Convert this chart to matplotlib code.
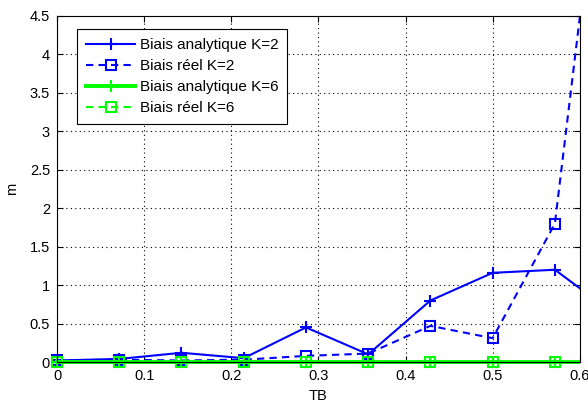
import matplotlib
matplotlib.use("Agg")
import matplotlib.pyplot as plt
from matplotlib.patches import Rectangle
import numpy as np

tb = [0, 1/14, 2/14, 3/14, 4/14, 5/14, 6/14, 7/14, 8/14, 9/14]
ana_k2 = [0.02, 0.04, 0.12, 0.05, 0.45, 0.10, 0.80, 1.16, 1.20, 0.60]
reel_k2 = [0.02, 0.03, 0.02, 0.03, 0.08, 0.11, 0.47, 0.31, 1.80, 8.50]
ana_k6 = [0.005, 0.005, 0.005, 0.005, 0.005, 0.005, 0.005, 0.005, 0.005, 0.005]
reel_k6 = [0.005, 0.005, 0.005, 0.005, 0.005, 0.005, 0.005, 0.005, 0.005, 0.005]
xticks = [0, 0.1, 0.2, 0.3, 0.4, 0.5, 0.6]
yticks = [0, 0.5, 1, 1.5, 2, 2.5, 3, 3.5, 4, 4.5]

plt.rcParams['font.family'] = ['Liberation Sans', 'DejaVu Sans']
fig = plt.figure(figsize=(5.88, 4.03), dpi=100)
ax = fig.add_axes([0.097, 0.1017, 0.889, 0.8586])

blue = '#0000ff'
green = '#00ff00'
dash = (0, (3.5, 2.5))
lines = []
lines += ax.plot(tb, ana_k2, '-', color=blue, marker='+', ms=9, mew=1.5, lw=1.5, label='Biais analytique K=2')
lines += ax.plot(tb, reel_k2, linestyle=dash, color=blue, marker='s', ms=7.5, mfc='none', mew=1.5, lw=1.5, label='Biais réel K=2')
lines += ax.plot(tb, ana_k6, '-', color=green, marker='+', ms=9, mew=1.5, lw=2.8, label='Biais analytique K=6')
lines += ax.plot(tb, reel_k6, linestyle=dash, color=green, marker='s', ms=7.5, mfc='none', mew=1.5, lw=1.5, label='Biais réel K=6')

ax.set_xlim(0, 0.6)
ax.set_ylim(0, 4.5)

clip = Rectangle((-0.02, -0.03), 1.02, 1.03, transform=ax.transAxes, facecolor='none', edgecolor='none')
for ln in lines:
    ln.set_clip_path(clip)

ax.set_xticks(xticks)
ax.set_xticklabels([f'{v:g}' for v in xticks])
ax.set_yticks(yticks)
ax.set_yticklabels([f'{v:g}' for v in yticks])
ax.grid(True, linestyle=(0, (1, 3)), color='black', lw=0.8)
ax.tick_params(direction='in', labelsize=10.5, top=True, right=True, length=4, pad=5)
ax.set_xlabel('TB', fontsize=10.5, labelpad=4)
ax.set_ylabel('m', fontsize=10.5, labelpad=8)
for s in ax.spines.values():
    s.set_linewidth(0.8)

leg = ax.legend(loc='upper left', bbox_to_anchor=(0.038, 0.962), borderaxespad=0,
                fontsize=11, frameon=True, fancybox=False, edgecolor='black', framealpha=1,
                handlelength=3.2, borderpad=0.6, labelspacing=0.45, handletextpad=0.3)
leg.get_frame().set_linewidth(0.8)

fig.savefig('out.png', dpi=100)
